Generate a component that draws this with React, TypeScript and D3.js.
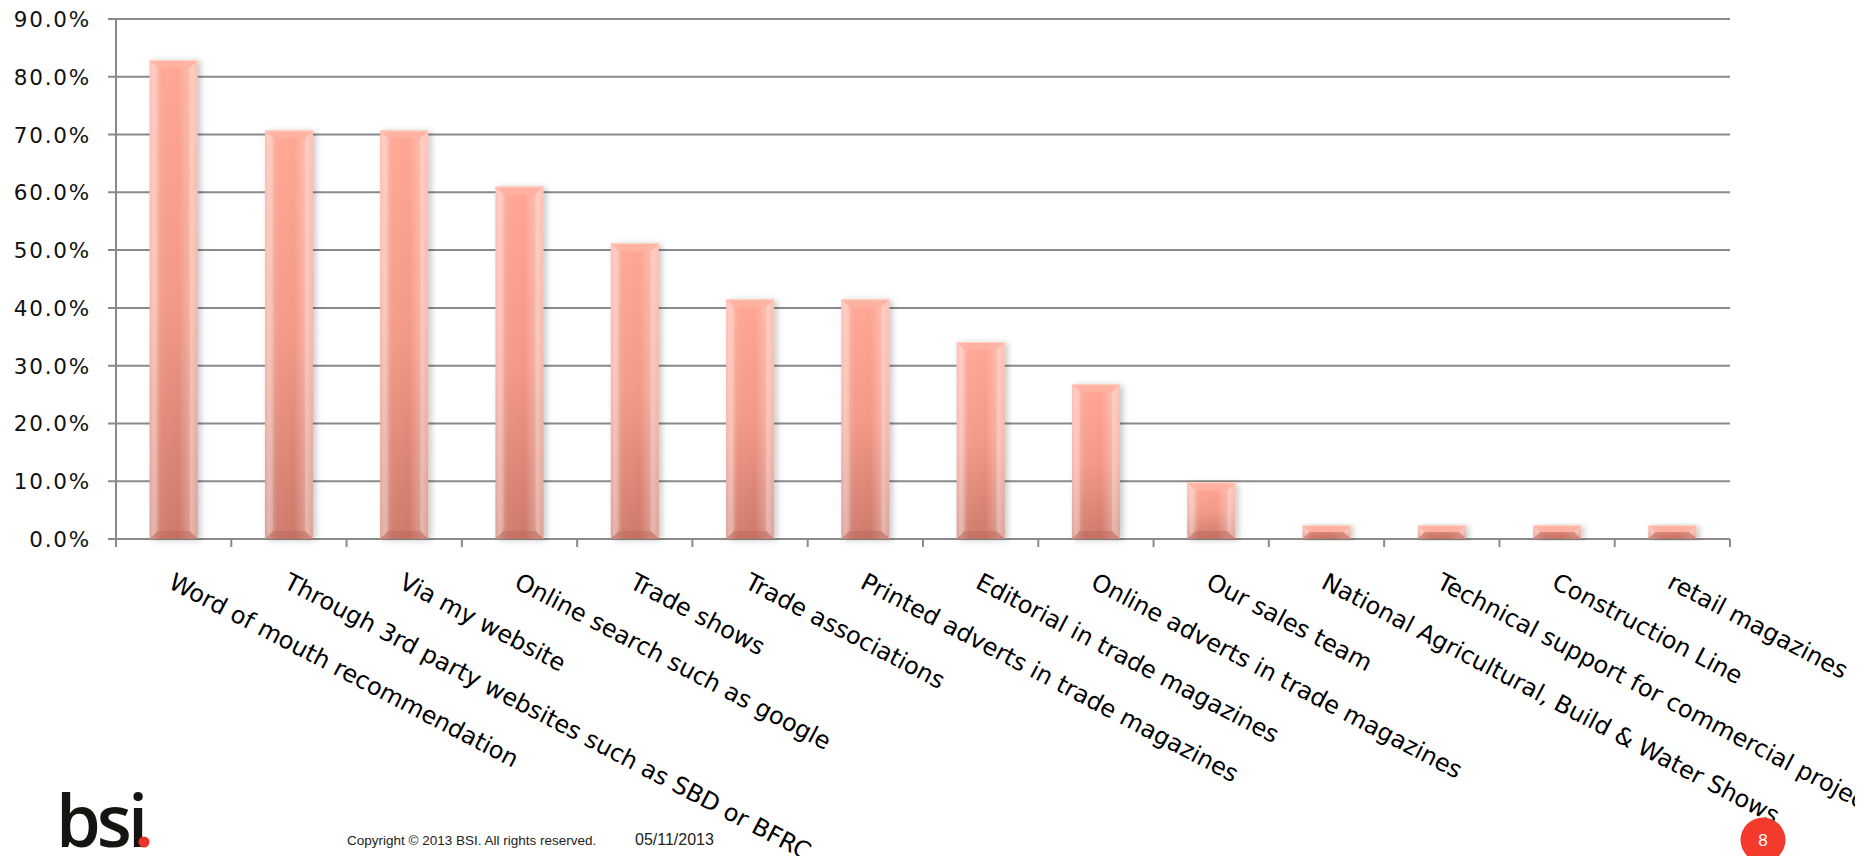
import React from "react";
import * as d3 from "d3";

const categories = [
  "Word of mouth recommendation",
  "Through 3rd party websites such as SBD or BFRC",
  "Via my website",
  "Online search such as google",
  "Trade shows",
  "Trade associations",
  "Printed adverts in trade magazines",
  "Editorial in trade magazines",
  "Online adverts in trade magazines",
  "Our sales team",
  "National Agricultural, Build & Water Shows",
  "Technical support for commercial projects",
  "Construction Line",
  "retail magazines",
];
const values = [82.9, 70.7, 70.7, 61.0, 51.2, 41.5, 41.5, 34.1, 26.8, 9.8, 2.4, 2.4, 2.4, 2.4];
const yTicks = [0, 10, 20, 30, 40, 50, 60, 70, 80, 90];
const copyrightText = "Copyright © 2013 BSI. All rights reserved.";
const dateText = "05/11/2013";
const pageNumber = "8";

const W = 1875;
const H = 856;
const left = 116;
const right = 1730;
const top = 19;
const bottom = 539;

export default function App() {
  const x = d3
    .scaleBand<string>()
    .domain(categories)
    .range([left, right])
    .paddingInner(0.584)
    .paddingOuter(0.292);
  const y = d3.scaleLinear().domain([0, 90]).range([bottom, top]);
  const step = x.step();
  const bw = x.bandwidth();
  const boundaries = d3.range(categories.length + 1).map((i) => left + i * step);

  return (
    <svg
      width={W}
      height={H}
      style={{ position: "absolute", left: 0, top: 0, background: "#fff", overflow: "hidden" }}
    >
      <defs>
        <linearGradient id="vgrad" x1="0" y1="0" x2="0" y2="1">
          <stop offset="0" stopColor="#ffa693" />
          <stop offset="0.5" stopColor="#f39886" />
          <stop offset="1" stopColor="#cd7869" />
        </linearGradient>
        <linearGradient id="hgrad" x1="0" y1="0" x2="1" y2="0">
          <stop offset="0" stopColor="#fff" stopOpacity="0.15" />
          <stop offset="0.08" stopColor="#fff" stopOpacity="0.35" />
          <stop offset="0.25" stopColor="#fff" stopOpacity="0.05" />
          <stop offset="0.6" stopColor="#fff" stopOpacity="0" />
          <stop offset="0.88" stopColor="#fff" stopOpacity="0.3" />
          <stop offset="1" stopColor="#fff" stopOpacity="0.1" />
        </linearGradient>
        <filter id="shadow" x="-30%" y="-10%" width="160%" height="120%">
          <feDropShadow dx="3" dy="1" stdDeviation="3" floodColor="#000" floodOpacity="0.22" />
        </filter>
        <clipPath id="labelClip">
          <rect x={0} y={0} width={1855} height={H} />
        </clipPath>
      </defs>

      {/* gridlines */}
      {yTicks.map((t) => (
        <line key={t} x1={left - 8} x2={right} y1={y(t)} y2={y(t)} stroke="#8a8a8a" strokeWidth={2} />
      ))}
      {/* left axis */}
      <line x1={left} x2={left} y1={top} y2={bottom + 8} stroke="#8a8a8a" strokeWidth={2} />
      {/* x tick marks */}
      {boundaries.map((bx, i) => (
        <line key={i} x1={bx} x2={bx} y1={bottom} y2={bottom + 8} stroke="#8a8a8a" strokeWidth={2} />
      ))}

      {/* y labels */}
      {yTicks.map((t) => (
        <text
          key={t}
          x={91}
          y={y(t) + 8}
          textAnchor="end"
          fontFamily="'DejaVu Sans', sans-serif"
          fontSize={21.5}
          letterSpacing={1.8}
          fill="#111"
        >
          {t.toFixed(1) + "%"}
        </text>
      ))}

      {/* bars */}
      {categories.map((c, i) => {
        const x0 = x(c)!;
        const y0 = y(values[i]);
        const h = bottom - y0;
        const b = Math.min(8, h / 2, bw / 2);
        const x1 = x0 + bw;
        return (
          <g key={c}>
            <rect x={x0} y={y0} width={bw} height={h} fill="url(#vgrad)" filter="url(#shadow)" />
            <rect x={x0} y={y0} width={bw} height={h} fill="url(#hgrad)" />
            <polygon
              points={`${x0},${y0} ${x1},${y0} ${x1 - b},${y0 + b} ${x0 + b},${y0 + b}`}
              fill="#ffb3a2"
              opacity={0.85}
            />
            <polygon
              points={`${x0},${y0} ${x0 + b},${y0 + b} ${x0 + b},${bottom - b} ${x0},${bottom}`}
              fill="#fff"
              opacity={0.18}
            />
            <polygon
              points={`${x1},${y0} ${x1 - b},${y0 + b} ${x1 - b},${bottom - b} ${x1},${bottom}`}
              fill="#fff"
              opacity={0.22}
            />
            <polygon
              points={`${x0},${bottom} ${x1},${bottom} ${x1 - b},${bottom - b} ${x0 + b},${bottom - b}`}
              fill="#b8675c"
              opacity={0.45}
            />
            <line x1={x0} x2={x1} y1={y0 + 0.5} y2={y0 + 0.5} stroke="#ffd6c8" strokeWidth={1} />
          </g>
        );
      })}

      {/* x labels */}
      <g clipPath="url(#labelClip)">
        {categories.map((c) => {
          const cx = x(c)! + bw / 2;
          return (
            <text
              key={c}
              transform={`translate(${cx + 2},${571}) rotate(27.6)`}
              dy="0.76em"
              fontFamily="'DejaVu Sans', sans-serif"
              fontSize={24}
              fill="#000"
            >
              {c}
            </text>
          );
        })}
      </g>

      {/* footer: logo */}
      <text
        x={56}
        y={847}
        fontFamily="'Open Sans', sans-serif"
        fontWeight={600}
        fontSize={72}
        letterSpacing={-4}
        fill="#161410"
      >
        bsi
      </text>
      <circle cx={144} cy={842} r={5.5} fill="#f0302a" />

      <text x={347} y={845} fontFamily="'Liberation Sans', Arial, sans-serif" fontSize={13.5} fill="#222">
        {copyrightText}
      </text>
      <text x={635} y={845} fontFamily="'Liberation Sans', Arial, sans-serif" fontSize={16} fill="#222">
        {dateText}
      </text>

      <circle cx={1763} cy={840} r={22.5} fill="#f33a2c" />
      <text
        x={1763}
        y={846}
        textAnchor="middle"
        fontFamily="'Liberation Sans', Arial, sans-serif"
        fontSize={17}
        fill="#fff"
      >
        {pageNumber}
      </text>
    </svg>
  );
}
